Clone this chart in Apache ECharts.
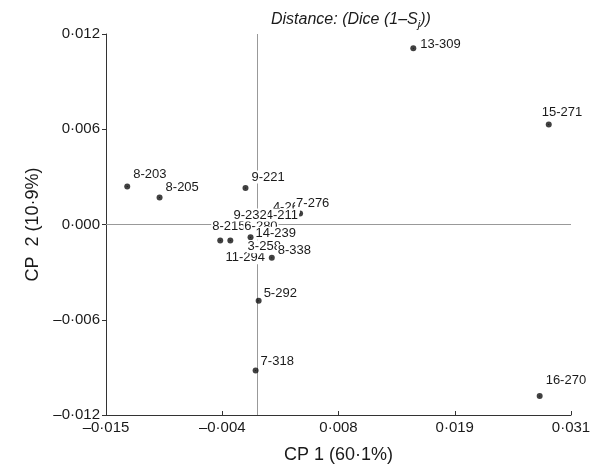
<!DOCTYPE html>
<html>
<head>
<meta charset="utf-8">
<script src="https://cdn.jsdelivr.net/npm/echarts@6/dist/echarts.min.js"></script>
<style>
html, body { margin: 0; padding: 0; background: #fff; }
#main { width: 595px; height: 470px; }
</style>
</head>
<body>
<div id="main"></div>
<script>
// 样本名称与两个主坐标 (CP1, CP2)
var names = ['13-309', '15-271', '8-203', '8-205', '9-221', '4-26', '7-276', '8-215', '6-280',
             '4-211', '9-232', '14-239', '11-294', '3-258', '8-338', '5-292', '7-318', '16-270'];
var cp1 = [0.0154, 0.0288, -0.0129, -0.0097, -0.0012, 0.0024, 0.0042, -0.0037, -0.0027,
           0.0017, -0.0015, -0.0007, -0.0023, -0.0001, 0.0014, 0.0001, -0.0002, 0.0279];
var cp2 = [0.0111, 0.0063, 0.0024, 0.0017, 0.0023, 0.0011, 0.0007, -0.0010, -0.0010,
           0.0006, 0.0006, -0.0008, -0.0021, -0.0014, -0.0021, -0.0048, -0.0092, -0.0108];

// 刻度
var xTicks = [-0.015, -0.0035, 0.008, 0.0195, 0.031];
var xTickLabels = ['–0·015', '–0·004', '0·008', '0·019', '0·031'];
var yTicks = [-0.012, -0.006, 0, 0.006, 0.012];
var yTickLabels = ['–0·012', '–0·006', '0·000', '0·006', '0·012'];

// 十字参考线
var crossX = 0;
var crossY = -0.0002;

// 标签偏移 (样式, 避免重叠)
var labelShift = {
    '13-309': [6, -4], '15-271': [-8, -12], '16-270': [5, -16], '5-292': [4, -7], '7-318': [4, -9],
    '8-203': [5, -12], '9-221': [5, -11], '14-239': [4, -4], '8-338': [5, -7], '8-215': [-9, -14],
    '6-280': [13, -14], '9-232': [-10, 0], '4-211': [-10, 0], '4-26': [-10, 0], '7-276': [-5, -10],
    '3-258': [-10, 0], '11-294': [-10, 0]
};

var font = 'Liberation Sans, Arial, sans-serif';
var textColor = '#1a1a1a';

function tickLabel(ticks, labels) {
    return function (v) {
        for (var i = 0; i < ticks.length; i++) {
            if (Math.abs(ticks[i] - v) < 1e-7) return labels[i];
        }
        return '';
    };
}

var points = names.map(function (n, i) { return [cp1[i], cp2[i]]; });
var labelData = names.map(function (n, i) {
    return { name: n, value: [cp1[i], cp2[i]], label: { offset: labelShift[n] || [5, -10] } };
});

var myChart = echarts.init(document.getElementById('main'));

var option = {
    animation: false,
    textStyle: { fontFamily: font },
    title: {
        text: '{a|Distance: (Dice (1–S}{s|j}{a|))}',
        left: 271,
        top: 9,
        padding: 0,
        textStyle: {
            fontWeight: 'normal',
            rich: {
                a: { fontFamily: font, fontStyle: 'italic', fontWeight: 'normal', fontSize: 16, color: textColor },
                s: { fontFamily: font, fontStyle: 'italic', fontWeight: 'normal', fontSize: 11, color: textColor, padding: [10, 0, 0, 0] }
            }
        }
    },
    grid: { left: 106, right: 24, top: 34, bottom: 55, outerBoundsMode: 'none' },
    xAxis: {
        type: 'value',
        min: -0.015,
        max: 0.031,
        name: 'CP 1 (60·1%)',
        nameLocation: 'middle',
        nameGap: 31,
        nameTextStyle: { fontFamily: font, fontSize: 18, color: textColor },
        axisLine: { show: true, onZero: false, lineStyle: { color: '#333', width: 1 } },
        axisTick: { show: true, inside: true, length: 4, customValues: xTicks, lineStyle: { color: '#333' } },
        axisLabel: { customValues: xTicks, formatter: tickLabel(xTicks, xTickLabels), fontFamily: font, fontSize: 15, color: textColor, margin: 5 },
        splitLine: { show: false }
    },
    yAxis: {
        type: 'value',
        min: -0.012,
        max: 0.012,
        name: 'CP  2 (10·9%)',
        nameLocation: 'middle',
        nameGap: 64,
        nameTextStyle: { fontFamily: font, fontSize: 18, color: textColor },
        axisLine: { show: true, onZero: false, lineStyle: { color: '#333', width: 1 } },
        axisTick: { show: true, length: 4, customValues: yTicks, lineStyle: { color: '#333' } },
        axisLabel: { customValues: yTicks, formatter: tickLabel(yTicks, yTickLabels), fontFamily: font, fontSize: 15, color: textColor, margin: 6 },
        splitLine: { show: false }
    },
    series: [
        {
            type: 'scatter',
            data: points,
            symbolSize: 6,
            itemStyle: { color: '#111' },
            silent: true,
            z: 2,
            markLine: {
                z: 1,
                silent: true,
                symbol: 'none',
                label: { show: false },
                lineStyle: { color: '#999', width: 1, type: 'solid', opacity: 1 },
                data: [{ xAxis: crossX }, { yAxis: crossY }]
            }
        },
        {
            type: 'scatter',
            data: labelData,
            symbolSize: 1,
            itemStyle: { color: '#111', opacity: 1 },
            silent: true,
            z: 10,
            label: {
                show: true,
                formatter: '{b}',
                position: 'inside',
                align: 'left',
                verticalAlign: 'middle',
                fontFamily: font,
                fontSize: 13,
                color: textColor,
                opacity: 1,
                backgroundColor: '#fff',
                padding: [0, 1]
            }
        }
    ]
};

myChart.setOption(option);
</script>
</body>
</html>
